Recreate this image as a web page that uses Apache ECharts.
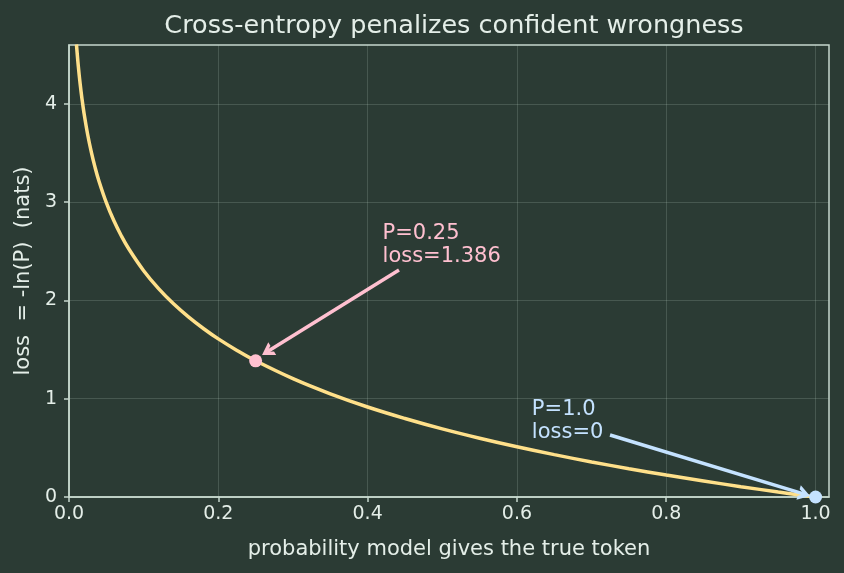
<!DOCTYPE html>
<html>
<head>
<meta charset="utf-8">
<script src="https://cdn.jsdelivr.net/npm/echarts@6/dist/echarts.min.js"></script>
<style>
html,body{margin:0;padding:0;background:#2b3b34;}
#chart{width:844px;height:573px;}
</style>
</head>
<body>
<div id="chart"></div>
<script>
// probability values and the loss
const probValues = [0.01, 0.0125, 0.015, 0.0175, 0.02, 0.025, 0.03, 0.035, 0.04, 0.05, 0.06, 0.07, 0.08, 0.1, 0.12, 0.14, 0.16, 0.18, 0.2, 0.225, 0.25, 0.3, 0.35, 0.4, 0.45, 0.5, 0.55, 0.6, 0.65, 0.7, 0.75, 0.8, 0.85, 0.9, 0.95, 1.0];
const lossValues = [4.605, 4.382, 4.200, 4.046, 3.912, 3.689, 3.507, 3.352, 3.219, 2.996, 2.813, 2.659, 2.526, 2.303, 2.120, 1.966, 1.833, 1.715, 1.609, 1.492, 1.386, 1.204, 1.050, 0.916, 0.799, 0.693, 0.598, 0.511, 0.431, 0.357, 0.288, 0.223, 0.163, 0.105, 0.051, 0.0];
// highlighted points
const markerProb = [0.25, 1.0];
const markerLoss = [1.386, 0];
const markerText = ['P=0.25\nloss=1.386', 'P=1.0\nloss=0'];
const xTicks = [0, 0.2, 0.4, 0.6, 0.8, 1.0];
const yTicks = [0, 1, 2, 3, 4];

const BG = '#2b3b34';
const FG = '#e4eee8';
const SPINE = '#c6d8cd';
const GRIDC = 'rgba(200,220,210,0.18)';
const YELLOW = '#ffe08a';
const PINK = '#ffc0d0';
const BLUE = '#c4e2ff';
const FONT = 'DejaVu Sans';
const CHEVRON = 'path://M0,10 L5,0 L10,10 L7.3,10 L5,5.2 L2.7,10 Z';

const curve = probValues.map((p, i) => [p, lossValues[i]]);

const chart = echarts.init(document.getElementById('chart'), null, {renderer: 'canvas'});
chart.setOption({
  backgroundColor: BG,
  animation: false,
  textStyle: {fontFamily: FONT},
  title: {
    text: 'Cross-entropy penalizes confident wrongness',
    left: 449, top: 8, textAlign: 'center',
    textStyle: {color: FG, fontSize: 25.5, fontWeight: 'normal', fontFamily: FONT}
  },
  grid: {left: 69, right: 15, top: 45, bottom: 76, show: true, borderColor: SPINE, borderWidth: 1.5, backgroundColor: 'transparent'},
  xAxis: {
    type: 'value', min: 0, max: 1.018, interval: 0.2,
    name: 'probability model gives the true token',
    nameLocation: 'middle', nameGap: 42,
    nameTextStyle: {color: FG, fontSize: 21, fontFamily: FONT},
    axisLine: {show: true, lineStyle: {color: SPINE, width: 1.5}},
    axisTick: {show: true, length: 5, customValues: xTicks, lineStyle: {color: SPINE, width: 1.5}},
    axisLabel: {color: FG, fontSize: 19, margin: 8, fontFamily: FONT, customValues: xTicks,
      formatter: v => Number(v).toFixed(1)},
    splitLine: {show: true, lineStyle: {color: GRIDC, width: 1}}
  },
  yAxis: {
    type: 'value', min: 0, max: 4.6, interval: 1,
    name: 'loss  = -ln(P)  (nats)',
    nameLocation: 'middle', nameGap: 31,
    nameTextStyle: {color: FG, fontSize: 21, fontFamily: FONT},
    axisLine: {show: true, lineStyle: {color: SPINE, width: 1.5}},
    axisTick: {show: true, length: 5, customValues: yTicks, lineStyle: {color: SPINE, width: 1.5}},
    axisLabel: {color: FG, fontSize: 19, margin: 12, fontFamily: FONT, customValues: yTicks,
      formatter: v => String(v)},
    splitLine: {show: true, lineStyle: {color: GRIDC, width: 1}}
  },
  series: [
    {
      type: 'line', data: curve, smooth: 0.4, showSymbol: false, clip: true,
      lineStyle: {color: YELLOW, width: 3.5}, z: 3
    },
    {
      type: 'scatter', data: [[markerProb[0], markerLoss[0]]], symbolSize: 13,
      itemStyle: {color: PINK, opacity: 1}, z: 5,
      markLine: {
        silent: true, symbol: ['none', CHEVRON], symbolSize: [15, 12],
        lineStyle: {color: PINK, width: 3.5, type: 'solid', opacity: 1}, itemStyle: {color: PINK}, label: {show: false},
        data: [[{coord: [0.442, 2.31]}, {coord: [0.2654, 1.478]}]]
      },
      markPoint: {
        silent: true, symbol: 'circle', symbolSize: 0,
        data: [{coord: [0.42, 2.335], value: markerText[0]}],
        label: {show: true, position: [0, 0], align: 'left', verticalAlign: 'bottom',
          formatter: markerText[0], color: PINK, fontSize: 21, lineHeight: 23, fontFamily: FONT}
      }
    },
    {
      type: 'scatter', data: [[markerProb[1], markerLoss[1]]], symbolSize: 13,
      itemStyle: {color: BLUE, opacity: 1}, z: 5,
      markLine: {
        silent: true, symbol: ['none', CHEVRON], symbolSize: [15, 12],
        lineStyle: {color: BLUE, width: 3.5, type: 'solid', opacity: 1}, itemStyle: {color: BLUE}, label: {show: false},
        data: [[{coord: [0.7247, 0.631]}, {coord: [0.985, 0.0285]}]]
      },
      markPoint: {
        silent: true, symbol: 'circle', symbolSize: 0,
        data: [{coord: [0.62, 0.535], value: markerText[1]}],
        label: {show: true, position: [0, 0], align: 'left', verticalAlign: 'bottom',
          formatter: markerText[1], color: BLUE, fontSize: 21, lineHeight: 23, fontFamily: FONT}
      }
    }
  ]
});
</script>
</body>
</html>
